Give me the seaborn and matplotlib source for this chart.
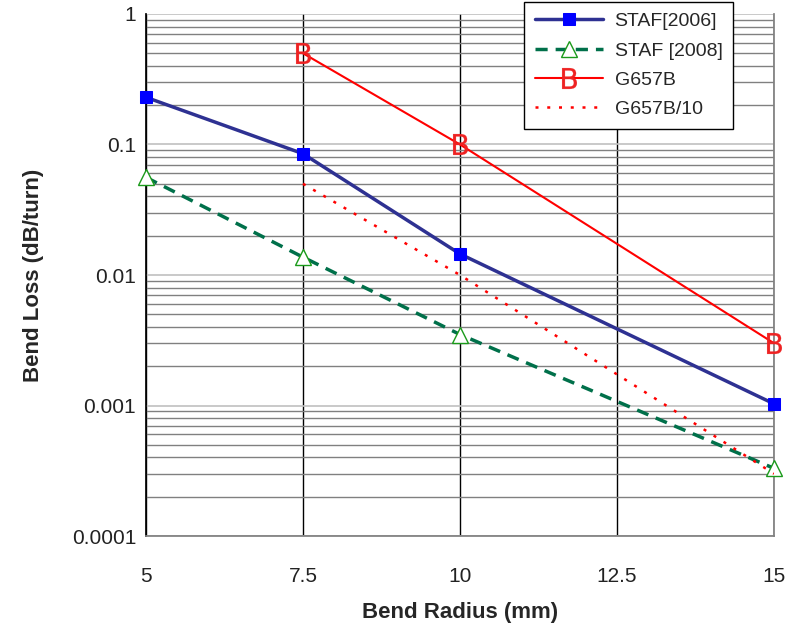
import numpy as np
import pandas as pd
import matplotlib
matplotlib.use("Agg")
import matplotlib.pyplot as plt
import seaborn as sns
from matplotlib.ticker import LogLocator, FixedLocator, NullFormatter

radius_2006 = [5, 7.5, 10, 15]
loss_2006 = [0.23, 0.085, 0.0145, 0.00103]
radius_2008 = [5, 7.5, 10, 15]
loss_2008 = [0.056, 0.0137, 0.0035, 0.00033]
radius_g657 = [7.5, 10, 15]
loss_g657 = [0.5, 0.1, 0.003]
loss_g657_10 = [0.05, 0.01, 0.0003]
xticks = [5, 7.5, 10, 12.5, 15]
xticklabels = ["5", "7.5", "10", "12.5", "15"]
yticks = [0.0001, 0.001, 0.01, 0.1, 1]
yticklabels = ["0.0001", "0.001", "0.01", "0.1", "1"]

sns.set_theme(style="white")
plt.rcParams['font.family'] = ['Liberation Sans', 'DejaVu Sans']

fig = plt.figure(figsize=(7.89, 6.27), dpi=100)
ax = fig.add_axes([0.185, 0.1451, 0.796, 0.8326])

d1 = pd.DataFrame({"x": radius_2006, "y": loss_2006})
d2 = pd.DataFrame({"x": radius_2008, "y": loss_2008})
d3 = pd.DataFrame({"x": radius_g657, "y": loss_g657})
d4 = pd.DataFrame({"x": radius_g657, "y": loss_g657_10})

sns.lineplot(data=d1, x="x", y="y", ax=ax, color="#2e3192", lw=2.5,
             marker="s", markersize=8, markerfacecolor="#0000ff",
             markeredgecolor="#0000ff", label="STAF[2006]", zorder=5, clip_on=False)
sns.lineplot(data=d2, x="x", y="y", ax=ax, color="#00704a", lw=2.5,
             dashes=(3.5, 2.3), marker="^", markersize=11,
             markerfacecolor="white", markeredgecolor="#1a9a1a",
             markeredgewidth=1.0, label="STAF [2008]", zorder=5, clip_on=False)
sns.lineplot(data=d3, x="x", y="y", ax=ax, color="#ff0000", lw=1.5,
             marker="$\\mathsf{B}$", markersize=15, markeredgewidth=0.2,
             markerfacecolor="#ee2222", markeredgecolor="#ee2222",
             label="G657B", zorder=5, clip_on=False)
sns.lineplot(data=d4, x="x", y="y", ax=ax, color="#ff0000", lw=1.8,
             dashes=(1.2, 3.5), label="G657B/10", zorder=5)

ax.set_yscale("log")
ax.set_xlim(5, 15)
ax.set_ylim(0.0001, 1)
ax.xaxis.set_major_locator(FixedLocator(xticks))
ax.set_xticklabels(xticklabels)
ax.yaxis.set_major_locator(FixedLocator(yticks))
ax.set_yticklabels(yticklabels)
ax.yaxis.set_minor_locator(LogLocator(base=10, subs=np.arange(2, 10)))
ax.yaxis.set_minor_formatter(NullFormatter())

ax.grid(True, which="major", axis="y", color="#c0c0c0", lw=1.2)
ax.grid(True, which="minor", axis="y", color="#808080", lw=1.0)
ax.grid(True, which="major", axis="x", color="black", lw=1.0)
ax.set_axisbelow(True)

ax.tick_params(axis="x", length=0, pad=22, labelsize=15, colors="#222222")
ax.tick_params(axis="y", which="both", length=0, pad=7, labelsize=15, colors="#222222")
ax.spines["top"].set_visible(False)
ax.spines["left"].set_color("black")
ax.spines["bottom"].set_color("#808080")
ax.spines["right"].set_color("#808080")

ax.set_xlabel("Bend Radius (mm)", fontsize=16, fontweight="bold", labelpad=12)
ax.set_ylabel("Bend Loss (dB/turn)", fontsize=16, fontweight="bold", labelpad=20)

leg = ax.legend(loc="upper right", bbox_to_anchor=(0.935, 1.023), fontsize=14,
                frameon=True, fancybox=False, edgecolor="black",
                handlelength=3.5, borderpad=0.55, labelspacing=0.6,
                handletextpad=0.6, borderaxespad=0)
leg.get_frame().set_linewidth(1.0)
leg.get_frame().set_alpha(1)
leg.set_zorder(10)

fig.savefig("out.png", dpi=100)
